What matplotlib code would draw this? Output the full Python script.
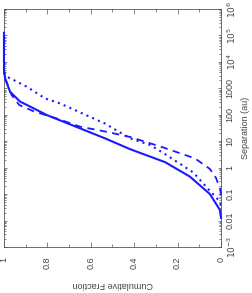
"""Cumulative separation distributions, drawn in the rotated (landscape-on-portrait) layout."""
import numpy as np
import matplotlib
matplotlib.use('Agg')
import matplotlib.pyplot as plt
from matplotlib.ticker import FixedLocator, FixedFormatter, LogLocator, NullFormatter, MultipleLocator

plt.rcParams['font.family'] = ['Liberation Sans', 'DejaVu Sans']

# ── data: (log10 separation [au], cumulative fraction) ──
solid_logsep = [-1.9, -1.6, -1.0, -0.34, 0.21, 0.70, 1.11, 1.99, 2.12, 2.25, 2.50, 2.87, 3.38, 3.7, 5.1]
solid_frac   = [0.0, 0.005, 0.051, 0.143, 0.258, 0.419, 0.535, 0.803, 0.834, 0.865, 0.926, 0.972, 0.995, 1.0, 1.0]

dotted_logsep = [-1.41, -1.22, -0.84, -0.18, 0.56, 0.86, 1.11, 1.67, 2.43, 2.62, 3.06, 3.32, 3.44, 3.6, 5.1]
dotted_frac   = [0.0, 0.012, 0.055, 0.128, 0.267, 0.327, 0.419, 0.535, 0.742, 0.811, 0.895, 0.957, 0.988, 1.0, 1.0]

dashed_logsep = [-1.03, -0.77, -0.39, -0.05, 0.35, 0.78, 1.16, 1.37, 1.55, 1.87, 2.12, 2.37, 2.75, 3.06, 3.5, 5.1]
dashed_frac   = [0.0, 0.005, 0.023, 0.051, 0.12, 0.272, 0.419, 0.535, 0.65, 0.76, 0.86, 0.93, 0.965, 0.98, 1.0, 1.0]

sep_ticks  = [1e-3, 1e-2, 1e-1, 1, 10, 100, 1000, 1e4, 1e5, 1e6]
sep_labels = [r'$10^{-3}$', '0.01', '0.1', '1', '10', '100', '1000', r'$10^4$', r'$10^5$', r'$10^6$']
frac_ticks  = [1.0, 0.8, 0.6, 0.4, 0.2, 0.0]
frac_labels = ['1', '0.8', '0.6', '0.4', '0.2', '0']

TXT = '#444444'
FS = 6.5

fig = plt.figure(figsize=(2.52, 2.93), dpi=100)
ax = fig.add_axes([4 / 252, 1 - 247 / 293, 217 / 252, 238 / 293])

blue = '#1a1aff'
kw = dict(color=blue, zorder=3, clip_on=False)
ax.plot(solid_frac, 10 ** np.array(solid_logsep), lw=1.5, ls='-', **kw)
ax.plot(dotted_frac, 10 ** np.array(dotted_logsep), lw=1.5, ls=(0, (1, 2)), **kw)
ax.plot(dashed_frac, 10 ** np.array(dashed_logsep), lw=1.3, ls=(0, (4, 3)), **kw)

ax.set_yscale('log')
ax.set_xlim(1, 0)
ax.set_ylim(1e-3, 1e6)

ax.xaxis.set_major_locator(FixedLocator(frac_ticks))
ax.xaxis.set_major_formatter(FixedFormatter(frac_labels))
ax.xaxis.set_minor_locator(MultipleLocator(0.1))
ax.yaxis.set_major_locator(FixedLocator(sep_ticks))
ax.yaxis.set_major_formatter(FixedFormatter(sep_labels))
ax.yaxis.set_minor_locator(LogLocator(base=10, subs=np.arange(2, 10), numticks=100))
ax.yaxis.set_minor_formatter(NullFormatter())
ax.yaxis.tick_right()
ax.yaxis.set_label_position('right')

ax.tick_params(which='both', direction='in', top=True, bottom=True, left=True, right=True,
               colors='#555555', width=0.5, labelcolor=TXT, labelsize=FS)
ax.tick_params(axis='x', which='major', length=3.5, pad=7)
ax.tick_params(axis='x', which='minor', length=2)
ax.tick_params(axis='y', which='major', length=2.5, pad=3)
ax.tick_params(axis='y', which='minor', length=1.3)

for lab in ax.get_xticklabels():
    lab.set_rotation(90)
    lab.set_va('top')
    lab.set_ha('center')
for lab in ax.get_yticklabels():
    lab.set_rotation(90)
    lab.set_va('center')
    lab.set_ha('left')

for sp in ax.spines.values():
    sp.set_color('#555555')
    sp.set_linewidth(0.6)

ax.set_ylabel('Separation (au)', rotation=90, color=TXT, fontsize=FS)
ax.yaxis.set_label_coords((246 - 4) / 217, 0.5)
ax.set_xlabel('Cumulative Fraction', rotation=180, color=TXT, fontsize=FS)
ax.xaxis.set_label_coords(0.5, (247 - 285) / 238)
ax.xaxis.label.set_va('center')
ax.yaxis.label.set_va('center')

fig.savefig('out.png', dpi=100)
